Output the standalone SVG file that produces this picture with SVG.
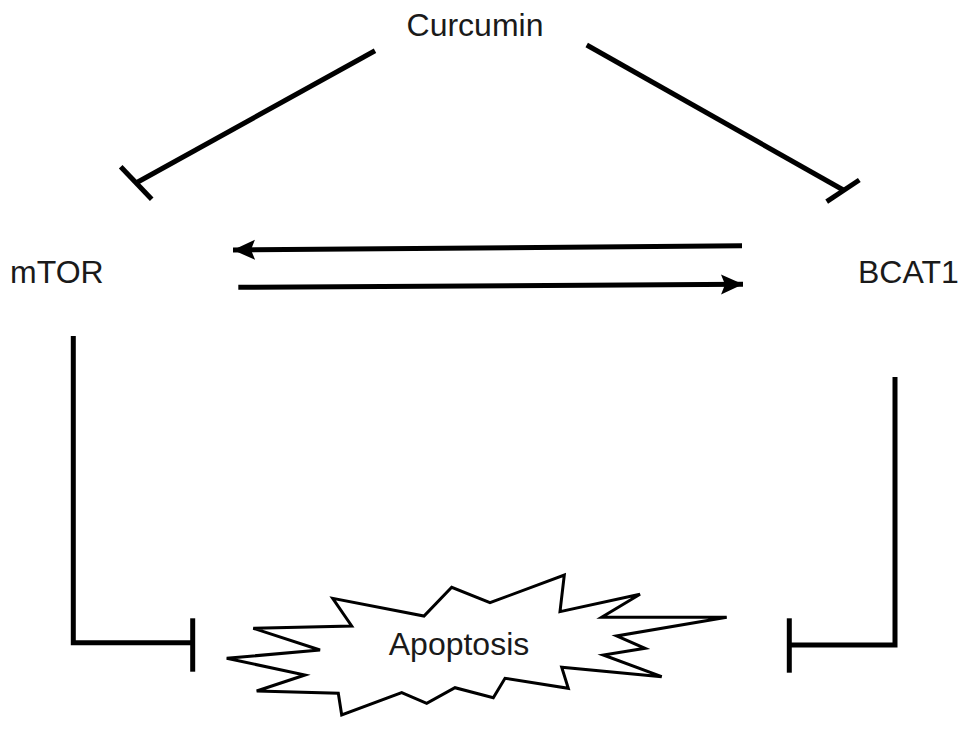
<svg xmlns="http://www.w3.org/2000/svg" width="969" height="730" viewBox="0 0 969 730">
<style>
.lbl{font-family:"Liberation Sans",Arial,Helvetica,sans-serif;font-size:32px;fill:#1a1a1a}
.ln{stroke:#000;stroke-width:5;fill:none;stroke-linecap:butt;stroke-linejoin:miter}
</style>
<defs>
<marker id="arr" markerUnits="userSpaceOnUse" markerWidth="24" markerHeight="24" viewBox="0 0 24 24" refX="22" refY="12" orient="auto">
<path d="M0,2 L22,12 L0,22 L4,12 Z" fill="#000"/>
</marker>
</defs>
<rect width="969" height="730" fill="#fff"/>
<g id="curcumin"><text class="lbl" x="475" y="36" text-anchor="middle">Curcumin</text></g>
<g id="mtor"><text class="lbl" x="10" y="283">mTOR</text></g>
<g id="bcat1"><text class="lbl" x="858" y="283">BCAT1</text></g>
<g id="apoptosis">
<polygon points="226.7,658.3 305,675 256.7,691 338.3,693.3 341.7,715 401.7,692.7 426.7,703.3 455,687.7 493.3,697.7 505,678.3 568.3,688.3 561.7,667.3 661.7,676.7 603.3,655 645,648.3 616.7,636 726.7,617.3 601.7,617.3 640,594.3 560,611.7 564.3,575 490,602.7 451.7,587.3 424,616 332.7,598.3 351.7,626 253.3,628.3 320,650" fill="#fff" stroke="#000" stroke-width="3" stroke-linejoin="miter"/>
<text class="lbl" x="459" y="655" text-anchor="middle">Apoptosis</text>
</g>
<g id="connectors">
<line class="ln" x1="375" y1="50.7" x2="136" y2="183"/>
<line class="ln" x1="120.7" y1="166.7" x2="151.7" y2="199.3"/>
<line class="ln" x1="586.7" y1="45" x2="843.3" y2="190"/>
<line class="ln" x1="826.7" y1="201.7" x2="859.3" y2="180"/>
<line class="ln" x1="742" y1="245.7" x2="233" y2="250" marker-end="url(#arr)"/>
<line class="ln" x1="238.3" y1="287.3" x2="743" y2="284.3" marker-end="url(#arr)"/>
<polyline class="ln" points="73.3,336 73.3,642.7 192.7,642.7"/>
<line class="ln" x1="192.7" y1="618.3" x2="192.7" y2="671.7"/>
<polyline class="ln" points="895,377 895,645 789.3,645"/>
<line class="ln" x1="789.3" y1="618.3" x2="789.3" y2="672.7"/>
</g>
</svg>
